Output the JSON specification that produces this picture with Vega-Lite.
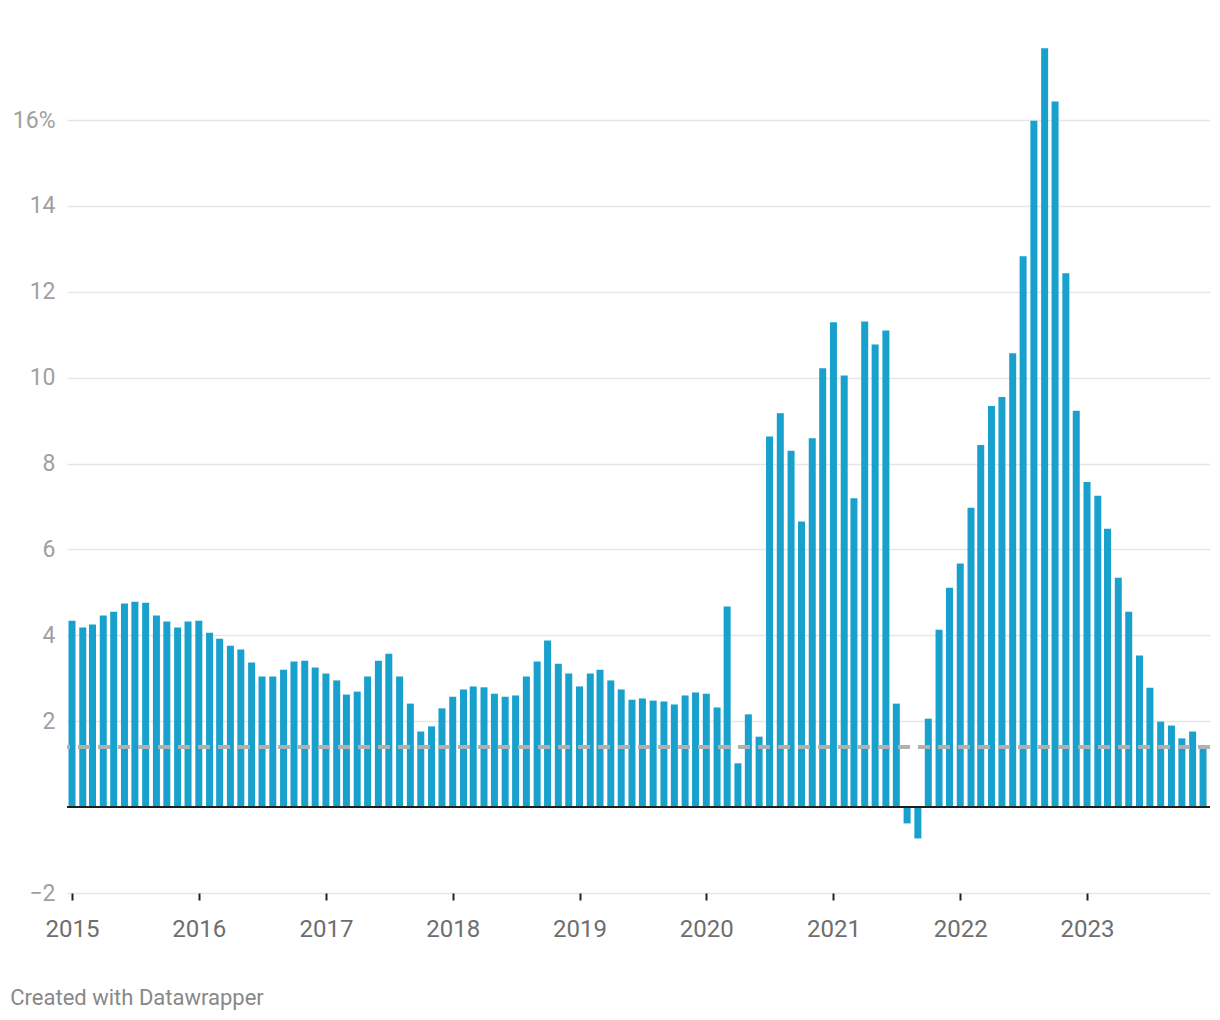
{
  "$schema": "https://vega.github.io/schema/vega-lite/v6.json",
  "autosize": "none",
  "width": 1143,
  "height": 846,
  "padding": {"left": 67, "top": 47, "right": 10, "bottom": 127},
  "background": "white",
  "config": {
    "font": "Roboto",
    "view": {"stroke": null}
  },
  "title": {
    "text": "Created with Datawrapper",
    "orient": "bottom",
    "anchor": "start",
    "frame": "bounds",
    "fontSize": 22,
    "fontWeight": "normal",
    "color": "#888888",
    "font": "Roboto",
    "offset": 47,
    "dx": -2
  },
  "data": {
    "values": [
      {"date": "2015-01-01", "v": 4.34}, {"date": "2015-02-01", "v": 4.18}, {"date": "2015-03-01", "v": 4.25}, {"date": "2015-04-01", "v": 4.46},
      {"date": "2015-05-01", "v": 4.55}, {"date": "2015-06-01", "v": 4.74}, {"date": "2015-07-01", "v": 4.78}, {"date": "2015-08-01", "v": 4.76},
      {"date": "2015-09-01", "v": 4.46}, {"date": "2015-10-01", "v": 4.32}, {"date": "2015-11-01", "v": 4.18}, {"date": "2015-12-01", "v": 4.32},
      {"date": "2016-01-01", "v": 4.34}, {"date": "2016-02-01", "v": 4.06}, {"date": "2016-03-01", "v": 3.92}, {"date": "2016-04-01", "v": 3.76},
      {"date": "2016-05-01", "v": 3.67}, {"date": "2016-06-01", "v": 3.37}, {"date": "2016-07-01", "v": 3.04}, {"date": "2016-08-01", "v": 3.04},
      {"date": "2016-09-01", "v": 3.20}, {"date": "2016-10-01", "v": 3.39}, {"date": "2016-11-01", "v": 3.41}, {"date": "2016-12-01", "v": 3.25},
      {"date": "2017-01-01", "v": 3.11}, {"date": "2017-02-01", "v": 2.95}, {"date": "2017-03-01", "v": 2.62}, {"date": "2017-04-01", "v": 2.69},
      {"date": "2017-05-01", "v": 3.04}, {"date": "2017-06-01", "v": 3.41}, {"date": "2017-07-01", "v": 3.57}, {"date": "2017-08-01", "v": 3.04},
      {"date": "2017-09-01", "v": 2.41}, {"date": "2017-10-01", "v": 1.76}, {"date": "2017-11-01", "v": 1.88}, {"date": "2017-12-01", "v": 2.30},
      {"date": "2018-01-01", "v": 2.57}, {"date": "2018-02-01", "v": 2.74}, {"date": "2018-03-01", "v": 2.81}, {"date": "2018-04-01", "v": 2.79},
      {"date": "2018-05-01", "v": 2.64}, {"date": "2018-06-01", "v": 2.57}, {"date": "2018-07-01", "v": 2.60}, {"date": "2018-08-01", "v": 3.04},
      {"date": "2018-09-01", "v": 3.39}, {"date": "2018-10-01", "v": 3.88}, {"date": "2018-11-01", "v": 3.34}, {"date": "2018-12-01", "v": 3.11},
      {"date": "2019-01-01", "v": 2.81}, {"date": "2019-02-01", "v": 3.11}, {"date": "2019-03-01", "v": 3.20}, {"date": "2019-04-01", "v": 2.95},
      {"date": "2019-05-01", "v": 2.74}, {"date": "2019-06-01", "v": 2.50}, {"date": "2019-07-01", "v": 2.53}, {"date": "2019-08-01", "v": 2.48},
      {"date": "2019-09-01", "v": 2.46}, {"date": "2019-10-01", "v": 2.39}, {"date": "2019-11-01", "v": 2.60}, {"date": "2019-12-01", "v": 2.67},
      {"date": "2020-01-01", "v": 2.64}, {"date": "2020-02-01", "v": 2.32}, {"date": "2020-03-01", "v": 4.67}, {"date": "2020-04-01", "v": 1.02},
      {"date": "2020-05-01", "v": 2.16}, {"date": "2020-06-01", "v": 1.64}, {"date": "2020-07-01", "v": 8.63}, {"date": "2020-08-01", "v": 9.17},
      {"date": "2020-09-01", "v": 8.30}, {"date": "2020-10-01", "v": 6.65}, {"date": "2020-11-01", "v": 8.59}, {"date": "2020-12-01", "v": 10.22},
      {"date": "2021-01-01", "v": 11.29}, {"date": "2021-02-01", "v": 10.05}, {"date": "2021-03-01", "v": 7.19}, {"date": "2021-04-01", "v": 11.31},
      {"date": "2021-05-01", "v": 10.77}, {"date": "2021-06-01", "v": 11.10}, {"date": "2021-07-01", "v": 2.41}, {"date": "2021-08-01", "v": -0.38},
      {"date": "2021-09-01", "v": -0.73}, {"date": "2021-10-01", "v": 2.06}, {"date": "2021-11-01", "v": 4.13}, {"date": "2021-12-01", "v": 5.11},
      {"date": "2022-01-01", "v": 5.67}, {"date": "2022-02-01", "v": 6.97}, {"date": "2022-03-01", "v": 8.43}, {"date": "2022-04-01", "v": 9.34},
      {"date": "2022-05-01", "v": 9.55}, {"date": "2022-06-01", "v": 10.57}, {"date": "2022-07-01", "v": 12.83}, {"date": "2022-08-01", "v": 15.98},
      {"date": "2022-09-01", "v": 17.67}, {"date": "2022-10-01", "v": 16.43}, {"date": "2022-11-01", "v": 12.43}, {"date": "2022-12-01", "v": 9.23},
      {"date": "2023-01-01", "v": 7.57}, {"date": "2023-02-01", "v": 7.25}, {"date": "2023-03-01", "v": 6.48}, {"date": "2023-04-01", "v": 5.34},
      {"date": "2023-05-01", "v": 4.55}, {"date": "2023-06-01", "v": 3.53}, {"date": "2023-07-01", "v": 2.78}, {"date": "2023-08-01", "v": 1.99},
      {"date": "2023-09-01", "v": 1.90}, {"date": "2023-10-01", "v": 1.60}, {"date": "2023-11-01", "v": 1.76}, {"date": "2023-12-01", "v": 1.37}
    ]
  },
  "layer": [
    {
      "mark": {"type": "bar", "color": "#18a1cd", "width": 7},
      "encoding": {
        "x": {
          "field": "date",
          "type": "temporal",
          "scale": {
            "type": "utc",
            "padding": 0,
            "domain": [
              {"year": 2014, "month": 12, "date": 17, "hours": 14, "utc": true},
              {"year": 2023, "month": 12, "date": 21, "utc": true}
            ]
          },
          "axis": {
            "title": null,
            "format": "%Y",
            "tickCount": {"interval": "year", "step": 1},
            "domain": false,
            "grid": false,
            "ticks": true,
            "tickColor": "#222222",
            "tickWidth": 2,
            "tickSize": 7,
            "labelColor": "#6e6e6e",
            "labelFontSize": 24,
            "labelFont": "Roboto",
            "labelPadding": 17,
            "labelFlush": false
          }
        },
        "y": {
          "field": "v",
          "type": "quantitative",
          "scale": {"domain": [-2, 17.7], "nice": false, "zero": false},
          "axis": {
            "title": null,
            "values": [-2, 2, 4, 6, 8, 10, 12, 14, 16],
            "labelExpr": "datum.value == 16 ? '16%' : (datum.value < 0 ? '\u2212' + abs(datum.value) : datum.label)",
            "domain": false,
            "ticks": false,
            "grid": true,
            "gridColor": "#e6e6e6",
            "gridWidth": 1.5,
            "labelColor": "#a0a0a0",
            "labelFontSize": 23,
            "labelFont": "Roboto",
            "labelPadding": 12
          }
        }
      }
    },
    {
      "mark": {"type": "rule", "color": "#1d1d1d", "strokeWidth": 2},
      "encoding": {"y": {"datum": 0}}
    },
    {
      "mark": {"type": "rule", "stroke": "#b0b0b0", "strokeOpacity": 0.7, "strokeWidth": 4, "strokeDash": [12, 8]},
      "encoding": {"y": {"datum": 1.4}}
    }
  ]
}
